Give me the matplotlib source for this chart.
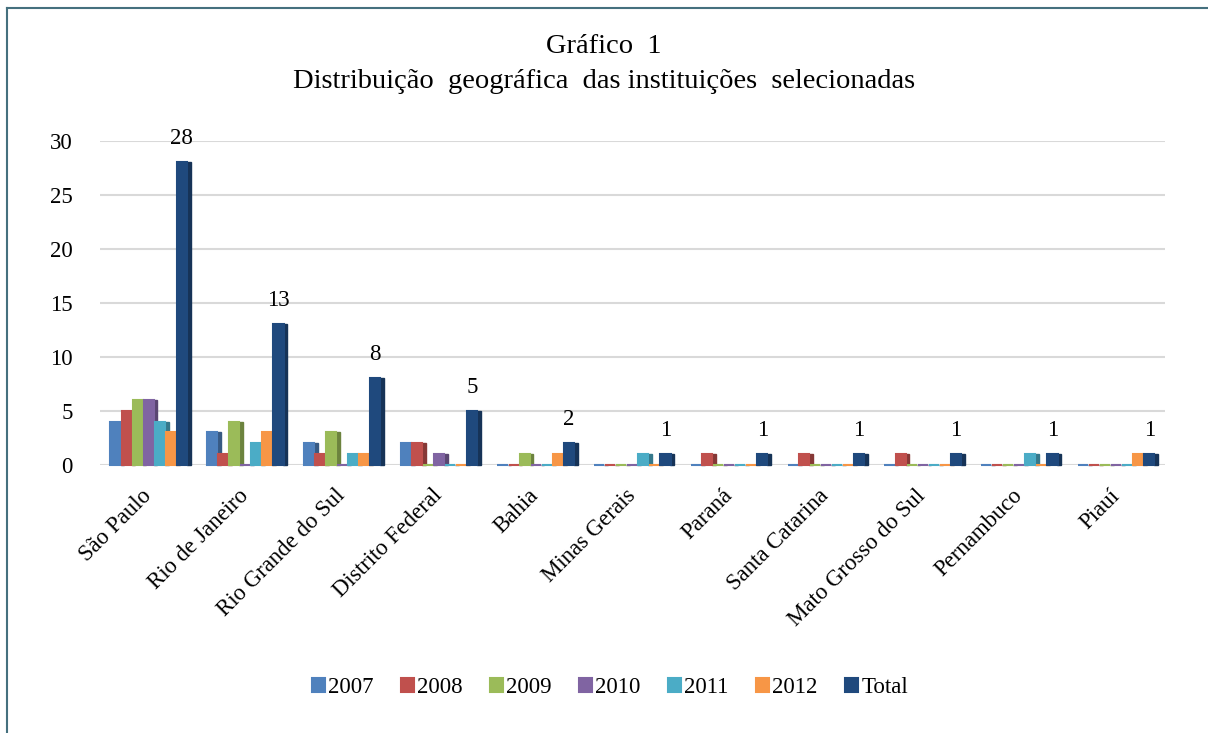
import numpy as np
import matplotlib.pyplot as plt
from matplotlib.lines import Line2D
from matplotlib.colors import to_rgb

plt.rcParams['font.family'] = ['Liberation Serif', 'DejaVu Serif']

estados = ['São Paulo', 'Rio de Janeiro', 'Rio Grande do Sul', 'Distrito Federal',
           'Bahia', 'Minas Gerais', 'Paraná', 'Santa Catarina',
           'Mato Grosso do Sul', 'Pernambuco', 'Piauí']
v2007 = [4, 3, 2, 2, 0, 0, 0, 0, 0, 0, 0]
v2008 = [5, 1, 1, 2, 0, 0, 1, 1, 1, 0, 0]
v2009 = [6, 4, 3, 0, 1, 0, 0, 0, 0, 0, 0]
v2010 = [6, 0, 0, 1, 0, 0, 0, 0, 0, 0, 0]
v2011 = [4, 2, 1, 0, 0, 1, 0, 0, 0, 1, 0]
v2012 = [3, 3, 1, 0, 1, 0, 0, 0, 0, 0, 1]
total = [28, 13, 8, 5, 2, 1, 1, 1, 1, 1, 1]

series = [('2007', v2007, '#4F81BD'), ('2008', v2008, '#C0504D'),
          ('2009', v2009, '#9BBB59'), ('2010', v2010, '#8064A2'),
          ('2011', v2011, '#4BACC6'), ('2012', v2012, '#F79646'),
          ('Total', total, '#1F497D')]

fs = 16.5

fig = plt.figure(figsize=(12.08, 7.33), dpi=100)
ax = fig.add_axes([0.083, 0.366, 0.881, 0.442])

x = np.arange(len(estados))
w = 0.114
for i, (nome, vals, cor) in enumerate(series):
    pos = x - 3 * w + i * w
    escuro = tuple(c * 0.7 for c in to_rgb(cor))
    # face lateral (efeito 3D), coberta pela barra seguinte
    ax.bar(pos + w * 0.45, vals, 0.04, align='edge', color=escuro, edgecolor=escuro,
           linewidth=1.0, zorder=3 + 2 * i + 1, clip_on=False)
    ax.bar(pos, vals, w * 0.92, color=cor, edgecolor=cor, linewidth=1.5,
           label=nome, zorder=3 + 2 * i + 1.5, clip_on=False)
    if nome == 'Total':
        for xp, v in zip(pos, vals):
            ax.text(xp, v + 1.2, str(v), ha='center', va='bottom', fontsize=fs)

ax.set_xlim(-0.5, len(estados) - 0.5)
ax.set_ylim(0, 30)
ax.set_yticks(range(0, 31, 5))
ax.yaxis.grid(True, color='#D9D9D9', linewidth=1.5, zorder=0)
for s in ax.spines.values():
    s.set_visible(False)
ax.tick_params(axis='both', length=0, labelsize=fs)
ax.tick_params(axis='y', pad=20)
ax.set_xticks(x)
ax.set_xticklabels(estados, rotation=45, ha='right', va='center', rotation_mode='anchor')
ax.tick_params(axis='x', pad=20)

fig.text(0.5, 0.937, 'Gráfico  1', ha='center', va='center', fontsize=20.5)
fig.text(0.5, 0.889, 'Distribuição  geográfica  das instituições  selecionadas',
         ha='center', va='center', fontsize=20.5)

leg = fig.legend(loc='center', bbox_to_anchor=(0.505, 0.062), ncol=7, frameon=False,
                 fontsize=fs, handlelength=0.55, handleheight=0.55,
                 handletextpad=0.15, columnspacing=1.2)

# moldura
fig.add_artist(Line2D([7 / 1208, 7 / 1208], [0, 1 - 8 / 733], color='#45707E', linewidth=1.5))
fig.add_artist(Line2D([7 / 1208, 1], [1 - 8 / 733, 1 - 8 / 733], color='#45707E', linewidth=1.5))

plt.savefig('out.png', dpi=100)
